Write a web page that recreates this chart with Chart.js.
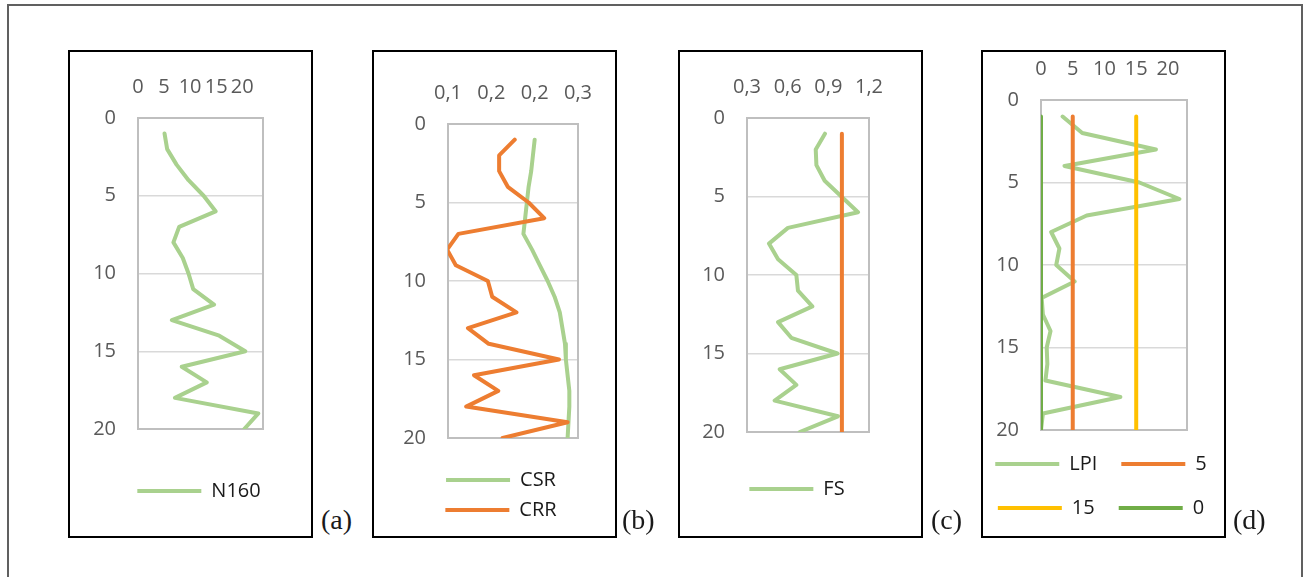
<!DOCTYPE html>
<html lang="en">
<head>
<meta charset="UTF-8">
<title>Liquefaction profiles</title>
<script src="https://cdn.jsdelivr.net/npm/chart.js@4.4.1/dist/chart.umd.min.js"></script>
<style>
  html, body { margin: 0; padding: 0; background: #fff; }
  #page { position: relative; width: 1308px; height: 577px; overflow: hidden; }
  .frame { position: absolute; left: 7px; top: 4px; width: 1296px; height: 640px; border: 2px solid #606060; box-sizing: border-box; }
  .box { position: absolute; top: 50px; width: 245px; height: 488px; border: 2px solid #000; box-sizing: border-box; }
  canvas { position: absolute; }
  .tag { position: absolute; top: 506px; font-family: 'Liberation Serif', serif; font-size: 28px; line-height: 28px; color: #1a1a1a; }
</style>
</head>
<body>
<div id="page">
  <div class="frame"></div>
  <div class="box" style="left:68px"></div>
  <div class="box" style="left:372px"></div>
  <div class="box" style="left:678px"></div>
  <div class="box" style="left:981px"></div>
  <canvas id="chartA"></canvas>
  <canvas id="chartB"></canvas>
  <canvas id="chartC"></canvas>
  <canvas id="chartD"></canvas>
  <div class="tag" style="left:321px">(a)</div>
  <div class="tag" style="left:622px">(b)</div>
  <div class="tag" style="left:931px">(c)</div>
  <div class="tag" style="left:1233px">(d)</div>
</div>
<script>
// depth (m) of each reading
const depths = [1, 2, 3, 4, 5, 6, 7, 8, 9, 10, 11, 12, 13, 14, 15, 16, 17, 18, 19, 20];
const depthTicks = [0, 5, 10, 15, 20];

// (a)
const n160 = [5.1, 5.6, 7.4, 9.7, 12.6, 14.9, 7.9, 6.8, 8.6, 9.7, 10.6, 14.6, 6.5, 15.6, 20.6, 8.4, 13.2, 7.1, 23.1, 20.4];
const n160Ticks = [0, 5, 10, 15, 20];
const n160TickLabels = ['0', '5', '10', '15', '20'];

// (b)
const csr = [0.200, 0.198, 0.196, 0.193, 0.191, 0.189, 0.187, 0.197, 0.206, 0.215, 0.223, 0.229, 0.232, 0.235, 0.236, 0.238, 0.240, 0.240, 0.239, 0.238];
const crr = [0.177, 0.159, 0.159, 0.169, 0.193, 0.211, 0.112, 0.099, 0.109, 0.146, 0.151, 0.179, 0.123, 0.147, 0.228, 0.130, 0.158, 0.121, 0.238, 0.163];
const ratioTicks = [0.1, 0.15, 0.2, 0.25];
const ratioTickLabels = ['0,1', '0,2', '0,2', '0,3'];

// (c)
const fs = [0.875, 0.807, 0.812, 0.873, 0.996, 1.119, 0.602, 0.462, 0.529, 0.664, 0.676, 0.782, 0.529, 0.627, 0.967, 0.541, 0.664, 0.504, 0.971, 0.689];
const fsLimit = [1, 1, 1, 1, 1, 1, 1, 1, 1, 1, 1, 1, 1, 1, 1, 1, 1, 1, 1, 1];
const fsTicks = [0.3, 0.6, 0.9, 1.2];
const fsTickLabels = ['0,3', '0,6', '0,9', '1,2'];

// (d)
const lpi = [3.4, 6.5, 18.1, 3.7, 15.5, 21.8, 7.2, 1.6, 2.9, 2.4, 5.3, 0.1, 0.3, 1.5, 0.9, 1.0, 0.7, 12.5, 0.3, 0];
const lpi5 = [5, 5, 5, 5, 5, 5, 5, 5, 5, 5, 5, 5, 5, 5, 5, 5, 5, 5, 5, 5];
const lpi15 = [15, 15, 15, 15, 15, 15, 15, 15, 15, 15, 15, 15, 15, 15, 15, 15, 15, 15, 15, 15];
const lpi0 = [0, 0, 0, 0, 0, 0, 0, 0, 0, 0, 0, 0, 0, 0, 0, 0, 0, 0, 0, 0];
const lpiTicks = [0, 5, 10, 15, 20];
const lpiTickLabels = ['0', '5', '10', '15', '20'];

const LIGHT_GREEN = '#a9d18e', ORANGE = '#ed7d31', YELLOW = '#ffc000', GREEN = '#70ad47';

Chart.defaults.font.family = "'Open Sans', sans-serif";
Chart.defaults.font.size = 20;
Chart.defaults.color = '#595959';

function series(label, values, color, order) {
  return {
    label: label,
    data: depths.map((d, i) => ({ x: values[i], y: d })),
    borderColor: color,
    backgroundColor: color,
    borderWidth: 4,
    borderCapStyle: 'round',
    borderJoinStyle: 'round',
    pointRadius: 0,
    tension: 0,
    order: order,
    xAxisID: 'x',
    yAxisID: 'y'
  };
}

// page position of canvas (= legend box) and the wanted plot area
function panel(id, L, datasets, xMin, xMax, ticks, tickLabels) {
  const canvas = document.getElementById(id);
  const top = 45, bottom = 540;
  canvas.width = L.legR - L.legL;
  canvas.height = bottom - top;
  canvas.style.left = L.legL + 'px';
  canvas.style.top = top + 'px';
  const legendH = L.rows * (20 + L.pad) + 10;
  const padBottom = bottom - L.plotB - L.gap - legendH;

  new Chart(canvas, {
    type: 'line',
    data: { datasets: datasets },
    options: {
      indexAxis: 'y',
      responsive: false,
      animation: false,
      layout: { padding: { left: 0, right: 0, top: 0, bottom: padBottom } },
      plugins: {
        tooltip: { enabled: false },
        legend: {
          position: 'bottom',
          labels: {
            usePointStyle: true,
            pointStyle: 'line',
            pointStyleWidth: 64,
            padding: L.pad,
            color: '#1a1a1a',
            font: { size: 20 },
            filter: item => item.text !== '',
            sort: (a, b) => a.datasetIndex - b.datasetIndex
          }
        }
      },
      scales: {
        x: {
          type: 'linear',
          position: 'top',
          min: xMin,
          max: xMax,
          grid: { display: false, drawTicks: false },
          border: { display: false },
          afterBuildTicks: s => { s.ticks = ticks.map(v => ({ value: v })); },
          afterFit: s => { s.height = L.plotT - top; },
          ticks: {
            autoSkip: false,
            maxRotation: 0,
            minRotation: 0,
            padding: 19,
            callback: (v, i) => tickLabels[i]
          }
        },
        y: {
          type: 'linear',
          reverse: true,
          min: 0,
          max: 20,
          afterBuildTicks: s => { s.ticks = depthTicks.map(v => ({ value: v })); },
          afterFit: s => { s.width = L.plotL - L.legL; },
          grid: {
            drawTicks: false,
            color: c => (c.tick && (c.tick.value === 0 || c.tick.value === 20)) ? '#bfbfbf' : '#d9d9d9',
            lineWidth: c => (c.tick && (c.tick.value === 0 || c.tick.value === 20)) ? 2 : 1.5
          },
          border: { display: true, color: '#bfbfbf', width: 2 },
          ticks: { padding: 22, autoSkip: false }
        },
        yPad: {
          type: 'linear',
          position: 'right',
          display: true,
          grid: { display: false, drawTicks: false },
          ticks: { display: false },
          border: { display: true, color: '#bfbfbf', width: 2 },
          afterFit: s => { s.width = L.legR - L.plotR; }
        },
        xPad: {
          type: 'linear',
          position: 'bottom',
          display: true,
          grid: { display: false, drawTicks: false },
          ticks: { display: false },
          border: { display: false },
          afterFit: s => { s.height = L.gap; }
        }
      }
    }
  });
}

panel('chartA',
  { legL: 79, legR: 319, plotL: 138, plotR: 263, plotT: 118, plotB: 429, gap: 42, pad: 10, rows: 1 },
  [series('N160', n160, LIGHT_GREEN, 1)],
  0, 24, n160Ticks, n160TickLabels);

panel('chartB',
  { legL: 383, legR: 619, plotL: 448, plotR: 578, plotT: 124, plotB: 438, gap: 22, pad: 10, rows: 2 },
  [series('CSR', csr, LIGHT_GREEN, 2), series('CRR', crr, ORANGE, 1)],
  0.1, 0.25, ratioTicks, ratioTickLabels);

panel('chartC',
  { legL: 677, legR: 917, plotL: 747, plotR: 869, plotT: 118, plotB: 432, gap: 37, pad: 10, rows: 1 },
  [series('FS', fs, LIGHT_GREEN, 2), series('', fsLimit, ORANGE, 1)],
  0.3, 1.2, fsTicks, fsTickLabels);

panel('chartD',
  { legL: 965, legR: 1237, plotL: 1041, plotR: 1187, plotT: 100, plotB: 430, gap: 0, pad: 24, rows: 2 },
  [series('LPI', lpi, LIGHT_GREEN, 4), series('5', lpi5, ORANGE, 3), series('15', lpi15, YELLOW, 2), series('0', lpi0, GREEN, 1)],
  0, 23, lpiTicks, lpiTickLabels);
</script>
</body>
</html>
